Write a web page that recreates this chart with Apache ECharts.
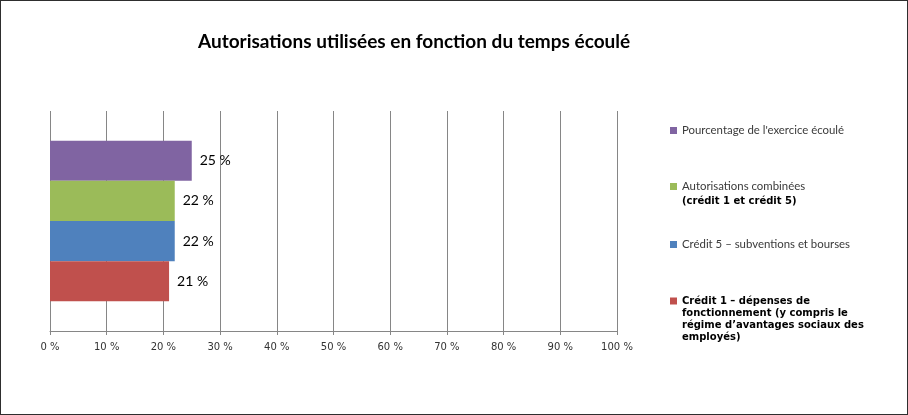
<!DOCTYPE html>
<html>
<head>
<meta charset="utf-8">
<script src="https://cdn.jsdelivr.net/npm/echarts@6/dist/echarts.min.js"></script>
<style>
  html, body { margin: 0; padding: 0; background: #fff; }
  #main { width: 908px; height: 415px; box-sizing: border-box; border: 1px solid #2e2e2e; }
</style>
</head>
<body>
<div id="main"></div>
<script>
// données du graphique (la première série est dessinée en haut)
var categories = [''];
var seriesNames = [
    "Pourcentage de l'exercice écoulé",
    'Autorisations combinées (crédit 1 et crédit 5)',
    'Crédit 5 – subventions et bourses',
    'Crédit 1 – dépenses de fonctionnement (y compris le régime d’avantages sociaux des employés)'
];
var seriesValues = [25, 22, 22, 21];
var seriesColors = ['#8064A2', '#9BBB59', '#4F81BD', '#C0504D'];
var xTickLabels = ['0 %', '10 %', '20 %', '30 %', '40 %', '50 %', '60 %', '70 %', '80 %', '90 %', '100 %'];

// texte de la légende, ligne par ligne (a = normal, b = gras)
var legendLines = [
    [['a', "Pourcentage de l'exercice écoulé"]],
    [['a', 'Autorisations combinées'], ['b', '(crédit 1 et crédit 5)']],
    [['a', 'Crédit 5 – subventions et bourses']],
    [['b', 'Crédit 1 – dépenses de'], ['b', 'fonctionnement (y compris le'], ['b', 'régime d’avantages sociaux des'], ['b', 'employés)']]
];
var legendTops = [124, 180, 238, 295];

var myChart = echarts.init(document.getElementById('main'));

var series = seriesNames.map(function (name, i) {
    return {
        name: name,
        type: 'bar',
        barGap: 0,
        barCategoryGap: '27%',
        itemStyle: { color: seriesColors[i] },
        label: {
            show: true,
            position: 'right',
            distance: 8,
            fontFamily: 'Lato',
            fontSize: 14,
            color: '#000',
            formatter: '{c} %'
        },
        data: [seriesValues[i]]
    };
});

var legends = seriesNames.map(function (name, i) {
    var lines = legendLines[i];
    var boldLh = lines.length > 2 ? 12 : 15;
    var pad = 0;
    for (var k = 1; k < lines.length; k++) {
        pad += lines[k][0] === 'a' ? 14 : boldLh;
    }
    return {
        data: [name],
        orient: 'vertical',
        left: 669,
        top: legendTops[i],
        padding: 0,
        icon: 'rect',
        itemWidth: 7,
        itemHeight: 7,
        selectedMode: false,
        formatter: function () {
            return lines.map(function (l) { return '{' + l[0] + '|' + l[1] + '}'; }).join('\n');
        },
        textStyle: {
            padding: [pad, 0, 0, 0],
            rich: {
                a: { fontFamily: 'Lato', fontSize: 11.4, color: '#3a3a3a', lineHeight: 14 },
                b: { fontFamily: 'DejaVu Sans', fontWeight: 'bold', fontSize: 10, color: '#000', lineHeight: boldLh }
            }
        }
    };
});

var option = {
    animation: false,
    title: {
        text: 'Autorisations utilisées en fonction du temps écoulé',
        left: 197,
        top: 31,
        padding: 0,
        textStyle: {
            fontFamily: 'Lato',
            fontWeight: 'bold',
            fontSize: 19,
            color: '#000'
        }
    },
    legend: legends,
    grid: {
        left: 49,
        right: 290,
        top: 110,
        bottom: 83
    },
    xAxis: {
        type: 'value',
        min: 0,
        max: 100,
        interval: 10,
        axisLine: { show: true, lineStyle: { color: '#868686' } },
        axisTick: { show: true, length: 4, lineStyle: { color: '#868686' } },
        splitLine: { show: true, lineStyle: { color: '#868686' } },
        axisLabel: {
            margin: 11,
            fontFamily: 'DejaVu Sans',
            fontSize: 10,
            color: '#333',
            formatter: function (v) { return xTickLabels[Math.round(v / 10)]; }
        }
    },
    yAxis: {
        type: 'category',
        data: categories,
        axisLine: { show: false },
        axisTick: { show: false },
        axisLabel: { show: false }
    },
    series: series
};

myChart.setOption(option);
</script>
</body>
</html>
